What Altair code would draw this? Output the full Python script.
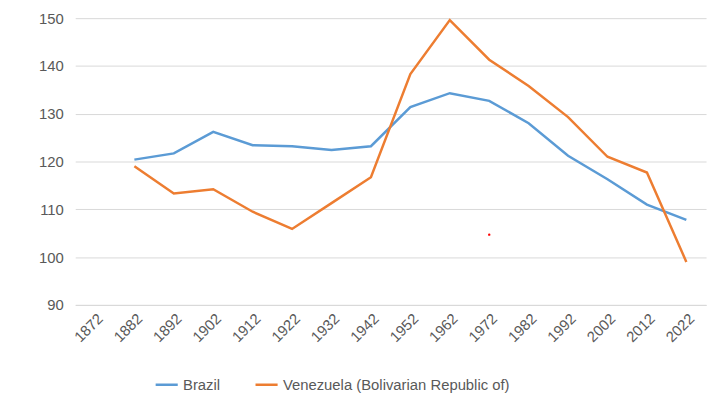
import altair as alt
import pandas as pd

years = [str(y) for y in range(1872, 2023, 10)]
brazil = [None, 120.4, 121.7, 126.2, 123.4, 123.2, 122.4, 123.2, 131.4, 134.3, 132.7, 128.0, 121.2, 116.3, 111.0, 107.8]
venezuela = [None, 119.0, 113.3, 114.2, 109.5, 105.9, 111.3, 116.7, 138.3, 149.6, 141.3, 135.8, 129.3, 121.0, 117.7, 99.0]

rows = []
for s, vals in [("Brazil", brazil), ("Venezuela (Bolivarian Republic of)", venezuela)]:
    for y, v in zip(years, vals):
        if v is not None:
            rows.append({"year": y, "value": v, "series": s})
df = pd.DataFrame(rows)

font = "Liberation Sans"
xs = alt.X("year:O", scale=alt.Scale(domain=years, type="point", padding=0.5),
           axis=alt.Axis(title=None, labelAngle=-45, labelFontSize=15, labelColor="#595959",
                         domainColor="#d9d9d9", ticks=False, grid=False, labelPadding=6, labelFont=font))
lines = alt.Chart(df).mark_line(strokeWidth=2.5).encode(
    x=xs,
    y=alt.Y("value:Q", scale=alt.Scale(domain=[90, 150]),
            axis=alt.Axis(title=None, values=[90, 100, 110, 120, 130, 140, 150], domain=False, ticks=False,
                          gridColor="#d9d9d9", labelFontSize=15, labelColor="#595959", labelPadding=12, labelFont=font)),
    color=alt.Color("series:N", scale=alt.Scale(domain=["Brazil", "Venezuela (Bolivarian Republic of)"],
                                                 range=["#5B9BD5", "#ED7D31"]),
                    legend=alt.Legend(title=None, orient="none", legendX=80, legendY=358, direction="horizontal",
                                      symbolType="stroke", symbolStrokeWidth=2.5, symbolSize=500, labelFontSize=15,
                                      labelColor="#595959", labelFont=font, columnPadding=30, labelLimit=0)),
)

dot = alt.Chart(pd.DataFrame({"year": ["1972"], "value": [104.7]})).mark_point(
    filled=True, size=6, color="red", opacity=1, dx=-3).encode(x=xs, y="value:Q")

chart = (lines + dot).properties(
    width=638, height=290,
    autosize=alt.AutoSizeParams(type="none"),
    padding={"left": 68, "top": 8, "right": 6, "bottom": 102},
).configure_view(stroke=None)

chart.save("out.html", embed_options={"renderer": "svg", "actions": False})
